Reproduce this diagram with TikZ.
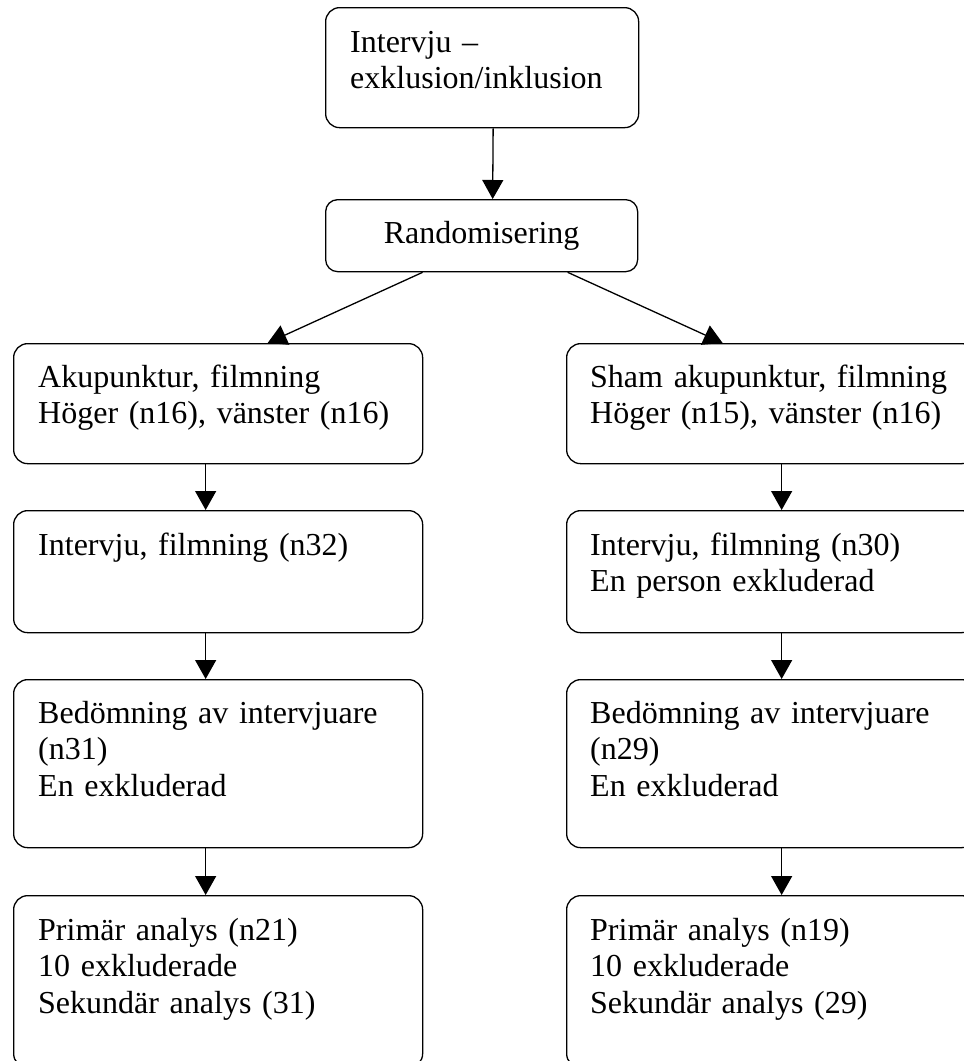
\documentclass[tikz,border=0pt]{standalone}
\usepackage{fontspec}
\setmainfont{Liberation Serif}
\usepackage{tikz}
\usetikzlibrary{arrows.meta,positioning,calc}

\tikzset{
    ruta/.style={draw, line width=1.3pt, rounded corners=14pt, rectangle,
        anchor=north west, inner sep=0pt, minimum width=409pt},
    txt/.style={anchor=base west, inner sep=0pt, text width=390pt, align=left,
        font=\fontsize{32pt}{36.7pt}\selectfont},
    pil/.style={line width=1.3pt, -{Triangle[length=19pt,width=21pt]}}
}

\begin{document}
\begin{tikzpicture}[x=1pt, y=-1pt]
    \clip (0,0) rectangle (964,1061);

    % Start
    \node[ruta, minimum width=313pt, minimum height=120pt] (start) at (325,7) {};
    \node[txt] (tstart) at ([xshift=25pt,yshift=-45pt]start.north west) {Intervju –\\exklusion/inklusion};
    \node[ruta, minimum width=312pt, minimum height=72pt, rounded corners=12pt,
          font=\fontsize{32pt}{36.7pt}\selectfont] (rand) at (325,199) {Randomisering};
    \draw[pil] ([xshift=11pt]start.south) -- ([xshift=11pt]rand.north);

    % Grupper (v = akupunktur, h = sham)
    \foreach \k/\x in {v/13,h/566} {
        \node[ruta, minimum height=120pt] (\k1) at (\x,343) {};
        \node[ruta, minimum height=122pt] (\k2) at (\x,510) {};
        \node[ruta, minimum height=168pt] (\k3) at (\x,679) {};
        \node[ruta, minimum height=172pt] (\k4) at (\x,895) {};
    }
    \draw[pil] ([xshift=-59pt]rand.south) -- ([xshift=49.5pt]v1.north);
    \draw[pil] ([xshift=86pt]rand.south) -- ([xshift=-48.5pt]h1.north);
    \foreach \k/\d in {v/-12.5,h/10.5} {
        \foreach \i/\j in {1/2,2/3,3/4}
            \draw[pil] ([xshift=\d pt]\k\i.south) -- ([xshift=\d pt]\k\j.north);
    }

    % Texter
    \node[txt] (tv1) at ([xshift=25pt,yshift=-44pt]v1.north west) {Akupunktur, filmning\\Höger (n16), vänster (n16)};
    \node[txt] (tv2) at ([xshift=25pt,yshift=-45pt]v2.north west) {Intervju, filmning (n32)};
    \node[txt] (tv3) at ([xshift=25pt,yshift=-44pt]v3.north west) {Bedömning av intervjuare\\(n31)\\En exkluderad};
    \node[txt] (tv4) at ([xshift=25pt,yshift=-45pt]v4.north west) {Primär analys (n21)\\10 exkluderade\\Sekundär analys (31)};
    \node[txt] (th1) at ([xshift=24pt,yshift=-44pt]h1.north west) {Sham akupunktur, filmning\\Höger (n15), vänster (n16)};
    \node[txt] (th2) at ([xshift=24pt,yshift=-45pt]h2.north west) {Intervju, filmning (n30)\\En person exkluderad};
    \node[txt] (th3) at ([xshift=24pt,yshift=-44pt]h3.north west) {Bedömning av intervjuare\\(n29)\\En exkluderad};
    \node[txt] (th4) at ([xshift=24pt,yshift=-45pt]h4.north west) {Primär analys (n19)\\10 exkluderade\\Sekundär analys (29)};
\end{tikzpicture}
\end{document}
